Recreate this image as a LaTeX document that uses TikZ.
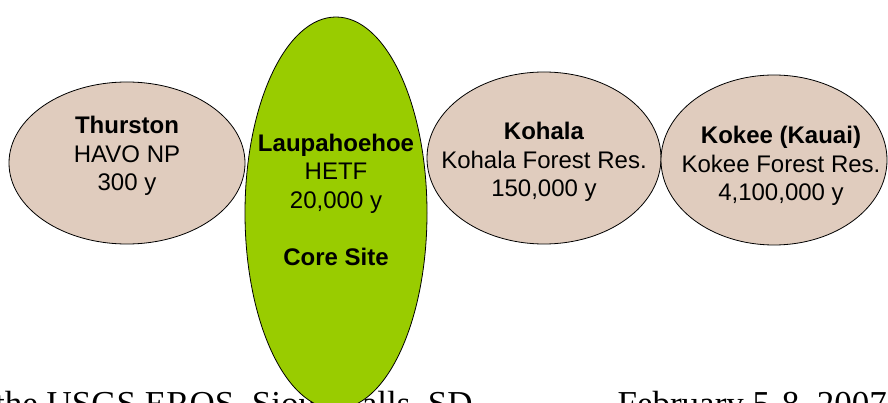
\documentclass[tikz,border=0pt]{standalone}
\usepackage{fontspec}
\setmainfont{Liberation Sans}
\newfontfamily\footserif{Liberation Serif}
\usetikzlibrary{shapes.geometric}
\definecolor{sitetan}{RGB}{224,204,190}
\definecolor{coregreen}{RGB}{153,204,0}

\begin{document}
\begin{tikzpicture}[x=1pt,y=-1pt,
  site/.style={ellipse, draw=black, line width=0.8pt, inner sep=0pt},
  older/.style={site, fill=sitetan},
  core/.style={site, fill=coregreen},
  sitetext/.style={align=center, inner sep=0pt, font=\fontsize{24}{28.7}\selectfont},
  foot/.style={inner sep=0pt, font=\footserif\fontsize{35}{42}\selectfont},
]
\useasboundingbox (0,0) rectangle (888,403);

% meeting line along the lower edge, partly hidden by the core site
\node[foot, anchor=base west] (venue) at (-5,415) {the USGS EROS, Sioux Falls, SD};
\node[foot, anchor=base east] (dates) at (887,415) {February 5-8, 2007};

% chronosequence sites
\node[older, minimum width=236pt, minimum height=162pt] (thurston) at (127,163) {};
\node[older, minimum width=234pt, minimum height=172pt] (kohala) at (544,158) {};
\node[older, minimum width=226pt, minimum height=170pt] (kokee) at (774,160) {};
\node[core, minimum width=182pt, minimum height=392pt] (laupa) at (336,213) {};

\node[sitetext] (thurstontext) at (127,156)
  {\textbf{Thurston}\\HAVO NP\\300 y};
\node[sitetext] (laupatext) at (336,200)
  {\textbf{Laupahoehoe}\\HETF\\20,000 y\\[28.7pt]\textbf{Core Site}};
\node[sitetext] (kohalatext) at (544,162)
  {\textbf{Kohala}\\Kohala Forest Res.\\150,000 y};
\node[sitetext] (kokeetext) at (781,166)
  {\textbf{Kokee (Kauai)}\\Kokee Forest Res.\\4,100,000 y};
\end{tikzpicture}
\end{document}
